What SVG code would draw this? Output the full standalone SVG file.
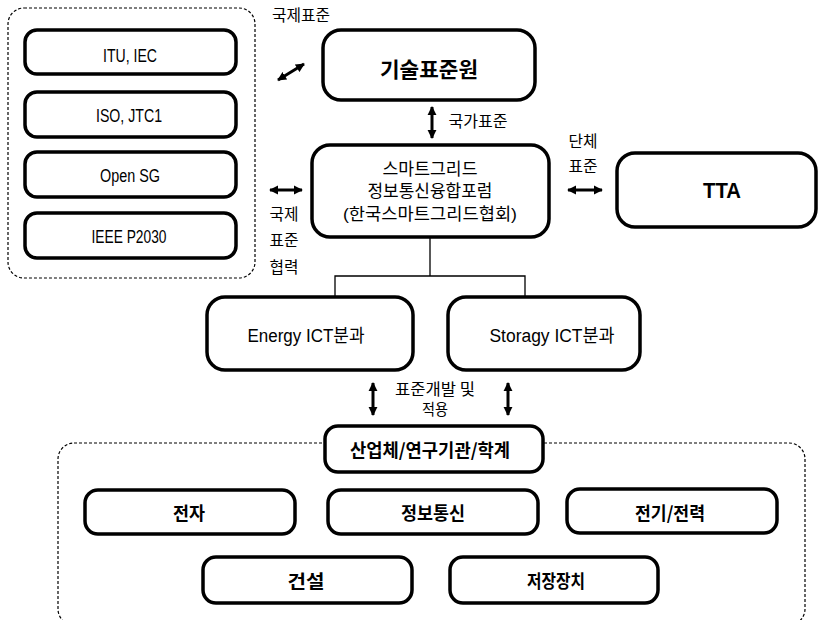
<svg xmlns="http://www.w3.org/2000/svg" width="819" height="620" viewBox="0 0 819 620">
<style>
.box{fill:#fff;stroke:#000;stroke-width:3.5}
.cont{fill:none;stroke:#000;stroke-width:1.2;stroke-dasharray:3,2}
.lat{font-family:"Liberation Sans",Arial,sans-serif;font-size:18px;fill:#000;text-anchor:middle}
.kb{font-family:"Noto Sans CJK KR","Liberation Sans",sans-serif;font-weight:bold;font-size:18px;fill:#000;text-anchor:middle}
.kr{font-family:"Liberation Sans","Noto Sans CJK KR",sans-serif;font-size:17px;fill:#000;text-anchor:middle}
.lbl{font-family:"Noto Sans CJK KR",sans-serif;font-size:15.5px;fill:#000;text-anchor:middle}
.arr{stroke:#000;stroke-width:3;fill:none;marker-start:url(#ah);marker-end:url(#ah)}
.ln{stroke:#000;stroke-width:1.3;fill:none}
</style>
<defs>
<marker id="ah" viewBox="0 0 10 10" refX="9" refY="5" markerWidth="9" markerHeight="10" markerUnits="userSpaceOnUse" orient="auto-start-reverse">
<path d="M0,0 L10,5 L0,10 z" fill="#000"/>
</marker>
</defs>

<g id="containers">
<rect class="cont" x="8" y="8" width="247" height="270" rx="16"/>
<rect class="cont" x="58" y="443" width="747" height="182" rx="16"/>
</g>

<g id="connectors">
<line class="arr" x1="278" y1="80" x2="304" y2="64"/>
<line class="arr" x1="432" y1="107" x2="432" y2="138"/>
<line class="arr" x1="270" y1="190" x2="302" y2="190"/>
<line class="arr" x1="568" y1="190" x2="602" y2="190"/>
<line class="arr" x1="373" y1="383" x2="373" y2="415"/>
<line class="arr" x1="508" y1="383" x2="508" y2="415"/>
<path class="ln" d="M430,237 V276 M335,297 V276 H525 V297"/>
</g>

<g id="labels">
<text class="lbl" x="301" y="21" textLength="58" lengthAdjust="spacingAndGlyphs">국제표준</text>
<text class="lbl" x="478" y="127" textLength="59" lengthAdjust="spacingAndGlyphs">국가표준</text>
<text class="lbl" x="284" y="220" textLength="29" lengthAdjust="spacingAndGlyphs">국제</text>
<text class="lbl" x="284" y="246" textLength="29" lengthAdjust="spacingAndGlyphs">표준</text>
<text class="lbl" x="284" y="273" textLength="29" lengthAdjust="spacingAndGlyphs">협력</text>
<text class="lbl" x="583" y="147" textLength="29" lengthAdjust="spacingAndGlyphs">단체</text>
<text class="lbl" x="583" y="172" textLength="29" lengthAdjust="spacingAndGlyphs">표준</text>
<text class="lbl" x="435" y="395" textLength="80" lengthAdjust="spacingAndGlyphs">표준개발 및</text>
<text class="lbl" x="435" y="415" textLength="26" lengthAdjust="spacingAndGlyphs">적용</text>
</g>

<g id="n-itu"><rect class="box" x="25" y="30" width="211" height="44" rx="12"/><text class="lat" x="130" y="62" textLength="54" lengthAdjust="spacingAndGlyphs">ITU, IEC</text></g>
<g id="n-iso"><rect class="box" x="25" y="92" width="211" height="45" rx="12"/><text class="lat" x="129" y="122" textLength="66" lengthAdjust="spacingAndGlyphs">ISO, JTC1</text></g>
<g id="n-opensg"><rect class="box" x="25" y="152" width="211" height="45" rx="12"/><text class="lat" x="130" y="182" textLength="60" lengthAdjust="spacingAndGlyphs">Open SG</text></g>
<g id="n-ieee"><rect class="box" x="25" y="213" width="211" height="45" rx="12"/><text class="lat" x="129" y="243" textLength="75" lengthAdjust="spacingAndGlyphs">IEEE P2030</text></g>

<g id="n-kats"><rect class="box" x="323" y="30" width="212" height="70" rx="18"/><text class="kb" x="429" y="77" style="font-size:21px" textLength="98" lengthAdjust="spacingAndGlyphs">기술표준원</text></g>

<g id="n-forum"><rect class="box" x="312" y="145" width="237" height="92" rx="18"/>
<text class="kr" x="430" y="175" textLength="95" lengthAdjust="spacingAndGlyphs">스마트그리드</text>
<text class="kr" x="430" y="197" textLength="125" lengthAdjust="spacingAndGlyphs">정보통신융합포럼</text>
<text class="kr" x="430" y="220" textLength="174" lengthAdjust="spacingAndGlyphs">(한국스마트그리드협회)</text></g>

<g id="n-tta"><rect class="box" x="617" y="153" width="199" height="74" rx="18"/><text class="lat" x="722" y="198" style="font-weight:bold;font-size:22px" textLength="38" lengthAdjust="spacingAndGlyphs">TTA</text></g>

<g id="n-energy"><rect class="box" x="207" y="297" width="206" height="73" rx="18"/><text class="kr" x="306" y="342" style="font-size:18px" textLength="117" lengthAdjust="spacingAndGlyphs">Energy ICT분과</text></g>
<g id="n-storagy"><rect class="box" x="448" y="297" width="192" height="73" rx="18"/><text class="kr" x="552" y="342" style="font-size:18px" textLength="125" lengthAdjust="spacingAndGlyphs">Storagy ICT분과</text></g>

<g id="n-industry"><rect class="box" x="325" y="426" width="218" height="46" rx="13"/><text class="kb" x="430" y="457" textLength="160" lengthAdjust="spacingAndGlyphs">산업체/연구기관/학계</text></g>
<g id="n-elec"><rect class="box" x="85" y="490" width="210" height="44" rx="13"/><text class="kb" x="189" y="520" textLength="32" lengthAdjust="spacingAndGlyphs">전자</text></g>
<g id="n-ict"><rect class="box" x="328" y="490" width="210" height="44" rx="13"/><text class="kb" x="433" y="520" textLength="64" lengthAdjust="spacingAndGlyphs">정보통신</text></g>
<g id="n-power"><rect class="box" x="567" y="489" width="210" height="44" rx="13"/><text class="kb" x="670" y="520" textLength="70" lengthAdjust="spacingAndGlyphs">전기/전력</text></g>
<g id="n-const"><rect class="box" x="203" y="557" width="209" height="46" rx="13"/><text class="kb" x="306" y="588" textLength="37" lengthAdjust="spacingAndGlyphs">건설</text></g>
<g id="n-storage"><rect class="box" x="450" y="557" width="208" height="46" rx="13"/><text class="kb" x="556" y="588" textLength="58" lengthAdjust="spacingAndGlyphs">저장장치</text></g>
</svg>
